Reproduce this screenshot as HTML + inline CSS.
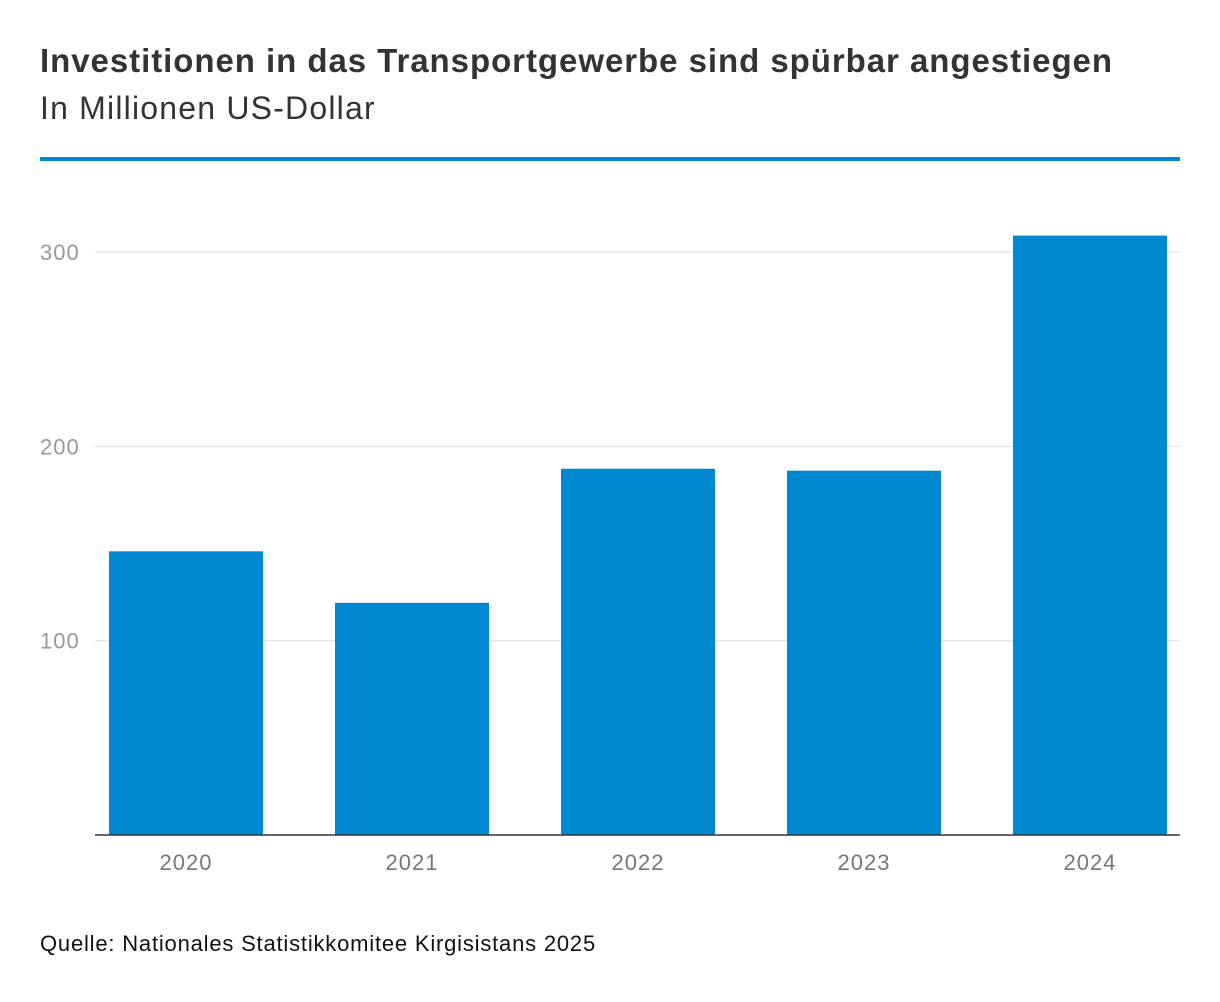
<!DOCTYPE html>
<html><head><meta charset="utf-8"><style>
body{margin:0;background:#fff;font-family:"Liberation Sans",sans-serif;}
#wrap{position:relative;width:1220px;height:1002px;overflow:hidden;}
.t{position:absolute;left:40px;white-space:nowrap;}
</style></head><body>
<div id="wrap">
<div class="t" style="top:42px;font-size:33px;letter-spacing:0.95px;font-weight:bold;color:#333;">Investitionen in das Transportgewerbe sind spürbar angestiegen</div>
<div class="t" style="top:90px;font-size:32px;letter-spacing:1.2px;color:#333;">In Millionen US-Dollar</div>
<div style="position:absolute;left:40px;top:157px;width:1140px;height:4px;background:#0088d1;"></div>
<svg id="chart" width="1220" height="1002" style="position:absolute;left:0;top:0"></svg>
<div class="t" style="top:931px;font-size:22px;letter-spacing:0.8px;color:#111;">Quelle: Nationales Statistikkomitee Kirgisistans 2025</div>
</div>
<script>
const categories=["2020","2021","2022","2023","2024"];
const values=[146,119.5,188.5,187.5,308.5];
const yTicks=[100,200,300];
const NS="http://www.w3.org/2000/svg";
const svg=document.getElementById('chart');
const y0=835,pxPer=1.943;
function yScale(v){return y0-v*pxPer;}
const xStart=73,step=226,barW=154;
function xCenter(i){return xStart+step*(i+0.5);}
function mk(tag,attrs){const e=document.createElementNS(NS,tag);for(const k in attrs)e.setAttribute(k,attrs[k]);svg.appendChild(e);return e;}
yTicks.forEach(t=>{
  const l=mk('line',{x1:95,x2:1180,y1:yScale(t),y2:yScale(t),stroke:'#dedede','stroke-width':1});
  
  
  const tx=mk('text',{x:40,y:yScale(t)+8,'font-size':22,'letter-spacing':1,fill:'#999','font-family':'Liberation Sans, sans-serif'});
  tx.textContent=t;
  
  
});
categories.forEach((c,i)=>{
  const r=mk('rect',{x:xCenter(i)-barW/2,y:yScale(values[i]),width:barW,height:y0-yScale(values[i]),fill:'#0088d1'});
  
  
  const tx=mk('text',{x:xCenter(i),y:870,'font-size':22,'letter-spacing':1,fill:'#777','text-anchor':'middle','font-family':'Liberation Sans, sans-serif'});
  tx.textContent=c;
  
  
});
const ax=mk('line',{x1:95,x2:1180,y1:y0,y2:y0,stroke:'#333','stroke-width':1.5});


</script>
</body></html>
